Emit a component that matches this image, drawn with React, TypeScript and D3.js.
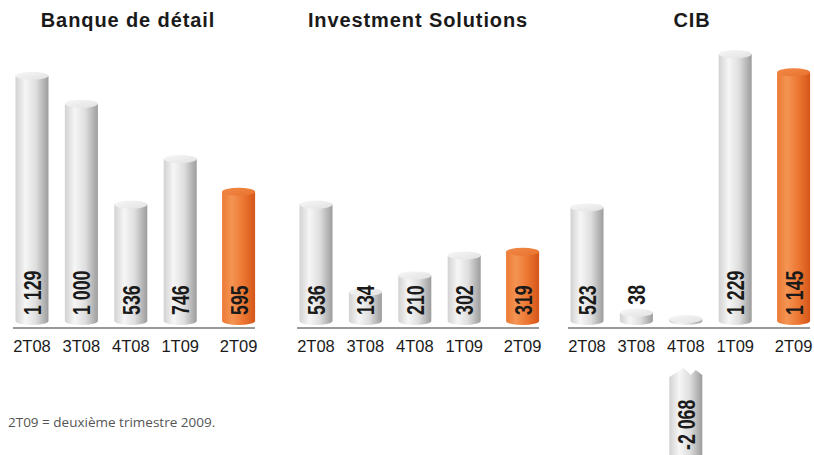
import * as d3 from "d3";

// quarterly results by business line (M€)
const quarters = ["2T08", "3T08", "4T08", "1T09", "2T09"];
const segments = ["Banque de détail", "Investment Solutions", "CIB"];
const banqueValues = [1129, 1000, 536, 746, 595];
const investmentValues = [536, 134, 210, 302, 319];
const cibValues = [523, 38, -2068, 1229, 1145];
const footnote = "2T09 = deuxième trimestre 2009.";

const width = 814;
const height = 455;
const zeroY = 321;
const axisY = 328;
const barWidth = 33;
const ry = 4;
const highlightGap = 9;
const panelLeft = [13, 297, 568];
const panelWidth = 242;
const titleX = [128, 418, 692];
const brokenTop = 368;

const y = d3.scaleLinear([0, 1300], [zeroY, zeroY - 0.2172 * 1300]);
const x = d3.scalePoint(quarters, [19, 19 + 4 * 49.4]);

const fmt = d3.formatLocale({
  decimal: ",",
  thousands: " ",
  grouping: [3],
  currency: ["", " €"],
  minus: "-",
}).format(",d");

const series = [banqueValues, investmentValues, cibValues];

function Cylinder({ cx, value, highlight }: { cx: number; value: number; highlight: boolean }) {
  const r = barWidth / 2;
  // negative values are cut at the axis: only a thin disc stays there
  const top = value > 0 ? Math.min(y(value), zeroY - 2) : zeroY - 2;
  const body = highlight ? "url(#orange-body)" : "url(#gray-body)";
  const cap = highlight ? "url(#orange-top)" : "url(#gray-top)";
  const path = `M${cx - r},${top} L${cx - r},${zeroY} A${r},${ry} 0 0 0 ${cx + r},${zeroY} L${cx + r},${top} Z`;
  return (
    <g>
      <path d={path} fill={body} />
      <ellipse cx={cx} cy={top} rx={r} ry={ry} fill={cap} />
    </g>
  );
}

function BrokenBar({ cx }: { cx: number }) {
  const r = barWidth / 2;
  const l = cx - r;
  const pts = [
    [l, brokenTop + 9],
    [cx - 2, brokenTop],
    [cx + 5, brokenTop + 7],
    [cx + 10, brokenTop + 2],
    [cx + r, brokenTop + 7],
  ];
  const d =
    "M" + pts.map((p) => p.join(",")).join(" L") + ` L${cx + r},${height + 5} L${l},${height + 5} Z`;
  return <path d={d} fill="url(#gray-body)" />;
}

function ValueLabel({ cx, yStart, text }: { cx: number; yStart: number; text: string }) {
  return (
    <text
      transform={`translate(${cx + 9},${yStart}) rotate(-90) scale(0.74,1)`}
      fontFamily="'Liberation Sans', Arial, sans-serif"
      fontWeight="bold"
      fontSize={24}
      fill="#1a1a1a"
    >
      {text}
    </text>
  );
}

export default function App() {
  return (
    <svg
      width={width}
      height={height}
      style={{ position: "absolute", left: 0, top: 0, background: "white" }}
    >
      <defs>
        <linearGradient id="gray-body" x1="0" x2="1" y1="0" y2="0">
          <stop offset="0" stopColor="#d2d2d2" />
          <stop offset="0.3" stopColor="#f6f6f6" />
          <stop offset="0.62" stopColor="#dedede" />
          <stop offset="1" stopColor="#9c9c9c" />
        </linearGradient>
        <linearGradient id="gray-top" x1="0" x2="1" y1="0" y2="1">
          <stop offset="0" stopColor="#f7f7f7" />
          <stop offset="1" stopColor="#e2e2e2" />
        </linearGradient>
        <linearGradient id="orange-body" x1="0" x2="1" y1="0" y2="0">
          <stop offset="0" stopColor="#ec7a35" />
          <stop offset="0.3" stopColor="#f49453" />
          <stop offset="0.65" stopColor="#ec7631" />
          <stop offset="1" stopColor="#d4561a" />
        </linearGradient>
        <linearGradient id="orange-top" x1="0" x2="1" y1="0" y2="1">
          <stop offset="0" stopColor="#f28a48" />
          <stop offset="1" stopColor="#e8712e" />
        </linearGradient>
      </defs>

      {segments.map((title, p) => {
        const x0 = panelLeft[p];
        const values = series[p];
        return (
          <g key={title}>
            <text
              x={titleX[p]}
              y={27}
              textAnchor="middle"
              fontFamily="'Liberation Sans', Arial, sans-serif"
              fontWeight="bold"
              fontSize={20}
              letterSpacing={0.9}
              fill="#1a1a1a"
            >
              {title}
            </text>
            {values.map((v, i) => {
              const highlight = i === quarters.length - 1;
              const cx = x0 + (x(quarters[i]) ?? 0) + (highlight ? highlightGap : 0);
              const h = v > 0 ? zeroY - y(v) : 0;
              return (
                <g key={quarters[i]}>
                  <Cylinder cx={cx} value={v} highlight={highlight} />
                  {v < 0 && <BrokenBar cx={cx} />}
                  {v < 0 ? (
                    <ValueLabel cx={cx} yStart={450} text={fmt(v)} />
                  ) : h < 15 ? (
                    <ValueLabel cx={cx} yStart={y(v) - 8} text={fmt(v)} />
                  ) : (
                    <ValueLabel cx={cx} yStart={315} text={fmt(v)} />
                  )}
                  <text
                    x={cx}
                    y={352}
                    textAnchor="middle"
                    fontFamily="'Liberation Sans', Arial, sans-serif"
                    fontSize={16.5}
                    fill="#1a1a1a"
                  >
                    {quarters[i]}
                  </text>
                </g>
              );
            })}
            <line
              x1={x0}
              x2={x0 + panelWidth}
              y1={axisY}
              y2={axisY}
              stroke="#777"
              strokeWidth={1.5}
            />
          </g>
        );
      })}

      <text
        x={8}
        y={427}
        fontFamily="'Open Sans', sans-serif"
        fontSize={13.5}
        fill="#555"
      >
        {footnote}
      </text>
    </svg>
  );
}
